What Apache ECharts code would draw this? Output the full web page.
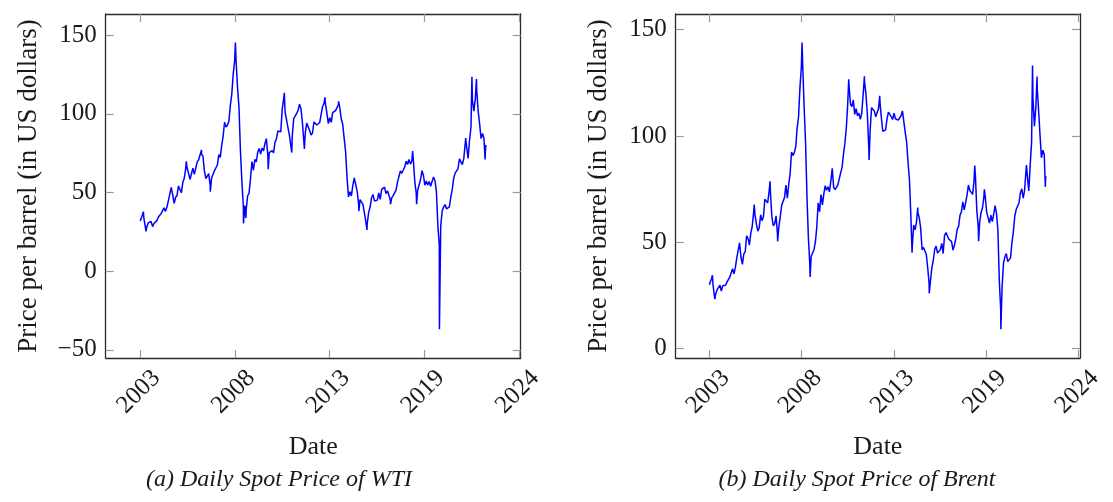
<!DOCTYPE html>
<html>
<head>
<meta charset="utf-8">
<title>Daily Spot Prices of WTI and Brent</title>
<script src="https://cdn.jsdelivr.net/npm/echarts@6/dist/echarts.min.js"></script>
<style>
  html, body { margin: 0; padding: 0; background: #fff; }
  #chart { width: 1113px; height: 502px; }
</style>
</head>
<body>
<div id="chart"></div>
<script>
// Monthly average spot prices (US$ per barrel), one row per year starting 2003
const startYear = 2003;

const wtiMonthly = [
  [32.95, 35.83, 33.51, 28.17, 28.11, 30.66, 30.76, 31.57, 28.31, 30.34, 31.11, 32.13],
  [34.31, 34.69, 36.74, 36.75, 40.28, 38.03, 40.78, 44.90, 45.94, 53.28, 48.47, 43.15],
  [46.84, 48.15, 54.19, 52.98, 49.83, 56.35, 59.00, 64.99, 65.59, 62.26, 58.32, 59.41],
  [65.49, 61.63, 62.69, 69.44, 70.84, 70.95, 74.41, 73.04, 63.80, 58.89, 59.08, 61.96],
  [54.51, 59.28, 60.44, 63.98, 63.46, 67.49, 74.12, 72.36, 79.92, 85.80, 94.77, 91.69],
  [92.97, 95.39, 105.45, 112.58, 125.40, 133.88, 133.37, 116.67, 104.11, 76.61, 57.31, 41.12],
  [41.71, 39.09, 47.94, 49.65, 59.03, 69.64, 64.15, 71.05, 69.41, 75.72, 77.99, 74.47],
  [78.33, 76.39, 81.20, 84.29, 73.74, 75.34, 76.32, 76.60, 75.24, 81.89, 84.25, 89.15],
  [89.17, 88.58, 102.86, 109.53, 100.90, 96.26, 97.30, 86.33, 85.52, 86.32, 97.16, 98.56],
  [100.27, 102.20, 106.16, 103.32, 94.66, 82.30, 87.90, 94.13, 94.51, 89.49, 86.53, 87.86],
  [94.76, 95.31, 92.94, 92.02, 94.51, 95.77, 104.67, 106.57, 106.29, 100.54, 93.86, 97.63],
  [94.62, 100.82, 100.80, 102.07, 102.18, 105.79, 103.59, 96.54, 93.21, 84.40, 75.79, 59.29],
  [47.22, 50.58, 47.82, 54.45, 59.27, 59.82, 50.90, 42.87, 45.48, 46.22, 42.44, 37.19],
  [31.68, 30.32, 37.55, 40.75, 46.71, 48.76, 44.65, 44.72, 45.18, 49.78, 45.66, 51.97],
  [52.50, 53.47, 49.33, 51.06, 48.48, 45.18, 46.63, 48.04, 49.82, 51.58, 56.64, 57.88],
  [63.70, 62.23, 62.73, 66.25, 69.98, 67.87, 70.98, 68.06, 70.23, 70.75, 56.96, 49.52],
  [51.38, 54.95, 58.15, 63.86, 60.83, 54.66, 57.35, 54.81, 56.95, 53.96, 57.03, 59.88],
  [57.52, 50.54, 29.21, 16.55, 28.56, 38.31, 40.71, 42.34, 39.63, 39.40, 40.94, 47.02],
  [52.00, 59.04, 62.33, 61.72, 65.17, 71.38, 72.49, 67.73, 71.54, 81.22, 78.65, 71.71],
  [83.22, 91.64, 108.50, 101.78, 109.55, 114.84, 101.62, 93.67, 84.26, 87.55, 84.37, 76.44]
];

const brentMonthly = [
  [31.18, 32.77, 30.61, 25.00, 25.86, 27.65, 28.35, 29.89, 27.11, 29.61, 28.75, 29.81],
  [31.28, 30.86, 33.63, 33.59, 37.57, 35.18, 38.22, 42.74, 43.20, 49.78, 43.11, 39.60],
  [44.51, 45.48, 53.10, 51.88, 48.65, 54.35, 57.52, 63.98, 62.91, 58.54, 55.24, 56.86],
  [62.99, 60.21, 62.06, 70.26, 69.78, 68.56, 73.67, 73.23, 61.96, 57.81, 58.76, 62.47],
  [53.68, 57.56, 62.05, 67.49, 67.21, 71.05, 76.93, 70.76, 77.17, 82.34, 92.41, 90.93],
  [92.18, 94.99, 103.64, 109.07, 122.80, 132.32, 132.72, 113.24, 97.23, 71.58, 52.45, 39.95],
  [43.44, 43.32, 46.54, 50.18, 57.30, 68.61, 64.44, 72.51, 67.65, 72.77, 76.66, 74.46],
  [76.17, 73.75, 78.83, 84.82, 75.95, 74.76, 75.58, 77.04, 77.84, 82.67, 85.28, 91.45],
  [96.52, 103.72, 114.64, 123.26, 114.99, 113.83, 116.97, 110.22, 112.83, 109.55, 110.77, 107.87],
  [110.69, 119.33, 125.45, 119.75, 110.34, 95.16, 102.62, 113.36, 112.86, 111.71, 109.06, 109.49],
  [112.96, 116.05, 108.47, 102.25, 102.56, 102.92, 107.93, 111.28, 111.60, 109.08, 107.79, 110.76],
  [108.12, 108.90, 107.48, 107.76, 109.54, 111.80, 106.77, 101.61, 97.09, 87.43, 79.44, 62.34],
  [47.76, 58.10, 55.89, 59.52, 64.08, 61.48, 56.56, 46.52, 47.62, 48.43, 44.27, 38.01],
  [30.70, 32.18, 38.21, 41.58, 46.74, 48.25, 44.95, 45.84, 46.57, 49.52, 44.73, 53.31],
  [54.58, 54.87, 51.59, 52.31, 50.33, 46.37, 48.48, 51.70, 56.15, 57.51, 62.71, 64.37],
  [69.08, 65.32, 66.02, 72.11, 76.98, 74.41, 74.25, 72.53, 78.89, 81.03, 64.75, 57.36],
  [59.41, 63.96, 66.14, 71.23, 71.32, 64.22, 63.92, 59.04, 62.83, 59.71, 63.21, 67.31],
  [63.65, 55.66, 32.01, 18.38, 29.38, 40.27, 43.24, 44.74, 40.91, 40.19, 42.69, 49.99],
  [54.77, 62.28, 65.41, 64.81, 68.53, 73.16, 75.17, 70.75, 74.49, 83.54, 81.05, 74.17],
  [86.51, 97.13, 117.25, 104.58, 113.34, 122.71, 111.93, 100.45, 89.76, 93.33, 91.42, 80.92]
];

// Notable single-day prices: [decimal year, price]
const wtiDaily = [
  [2003.00, 31.97], [2003.18, 37.83], [2003.33, 25.24], [2005.66, 69.81],
  [2006.54, 77.03], [2007.05, 50.48], [2008.50, 145.31], [2008.97, 30.28],
  [2009.11, 33.87], [2010.40, 64.78], [2011.33, 113.39], [2011.76, 75.40],
  [2012.49, 77.69], [2013.68, 110.53], [2014.47, 107.95], [2015.64, 38.22],
  [2016.11, 26.19], [2017.47, 42.53], [2018.75, 76.41], [2018.98, 42.53],
  [2020.30, -36.98], [2021.82, 84.65], [2022.18, 123.64], [2022.44, 122.11],
  [2022.94, 71.02], [2022.99, 80.26]
];

const brentDaily = [
  [2003.00, 30.08], [2003.18, 34.55], [2003.33, 23.26], [2005.66, 67.73],
  [2006.60, 78.69], [2007.05, 50.47], [2008.50, 143.95], [2008.98, 33.73],
  [2011.27, 126.64], [2012.20, 128.14], [2012.48, 88.69], [2013.11, 118.90],
  [2015.03, 45.13], [2015.37, 66.33], [2016.05, 26.01], [2018.75, 86.07],
  [2018.98, 50.57], [2019.32, 74.94], [2020.30, 9.12], [2021.82, 86.40],
  [2022.18, 133.18], [2022.45, 127.98], [2022.94, 76.10], [2022.99, 80.50]
];

// x ticks every 2000 days from the first trading day of 2003
const tickYears = [2003.00, 2008.48, 2013.95, 2019.43, 2024.90];
const tickLabels = ['2003', '2008', '2013', '2019', '2024'];

const wtiTicks = [-50, 0, 50, 100, 150];
const brentTicks = [0, 50, 100, 150];

function buildSeries(monthly, daily) {
  const pts = [];
  monthly.forEach((row, yi) => {
    row.forEach((v, m) => pts.push([startYear + yi + (m + 0.5) / 12, v]));
  });
  daily.forEach(p => pts.push([p[0], p[1]]));
  pts.sort((a, b) => a[0] - b[0]);
  return pts;
}

const FONT = '"Liberation Serif", "Times New Roman", serif';
const INK = '#1a1a1a';
const FRAME = '#2b2b2b';
const TICK = '#9a9a9a';

function xAxes(gridIndex) {
  const base = {
    type: 'value', gridIndex, min: 2001.0, max: 2025.0,
    splitLine: { show: false },
    axisLine: { show: true, onZero: false, lineStyle: { color: FRAME, width: 1.3 } },
    axisTick: { show: true, inside: true, length: 8, customValues: tickYears,
                lineStyle: { color: TICK, width: 1.2 } }
  };
  return [
    Object.assign({}, base, {
      position: 'bottom',
      name: 'Date', nameLocation: 'middle', nameGap: 76,
      nameTextStyle: { fontFamily: FONT, fontSize: 26, color: INK },
      axisLabel: {
        show: true, customValues: tickYears, rotate: 45, margin: 0,
        align: 'right', verticalAlign: 'top', lineHeight: 46,
        fontFamily: FONT, fontSize: 25, color: INK,
        formatter: v => {
          const i = tickYears.findIndex(t => Math.abs(t - v) < 1e-6);
          return i >= 0 ? tickLabels[i] : '';
        }
      }
    }),
    Object.assign({}, base, { position: 'top', axisLabel: { show: false } })
  ];
}

function yAxes(gridIndex, min, max, ticks) {
  const base = {
    type: 'value', gridIndex, min, max,
    splitLine: { show: false },
    axisLine: { show: true, onZero: false, lineStyle: { color: FRAME, width: 1.3 } },
    axisTick: { show: true, inside: true, length: 8, customValues: ticks,
                lineStyle: { color: TICK, width: 1.2 } }
  };
  return [
    Object.assign({}, base, {
      position: 'left',
      name: 'Price per barrel (in US dollars)', nameLocation: 'middle', nameGap: 63,
      nameTextStyle: { fontFamily: FONT, fontSize: 27, color: INK },
      axisLabel: { show: true, customValues: ticks, margin: 9,
                   fontFamily: FONT, fontSize: 25, color: INK,
                   formatter: v => (v < 0 ? '\u2212' + Math.abs(v) : String(v)) }
    }),
    Object.assign({}, base, { position: 'right', axisLabel: { show: false } })
  ];
}

const chart = echarts.init(document.getElementById('chart'), null, { renderer: 'canvas' });

chart.setOption({
  animation: false,
  backgroundColor: '#ffffff',
  grid: [
    { left: 105.7, top: 14, width: 415, height: 344 },
    { left: 675.7, top: 14, width: 416, height: 344 }
  ],
  xAxis: [...xAxes(0), ...xAxes(1)],
  yAxis: [...yAxes(0, -55.2, 163.5, wtiTicks), ...yAxes(1, -4.4, 157.4, brentTicks)],
  series: [
    {
      name: 'WTI', type: 'line', xAxisIndex: 0, yAxisIndex: 0,
      data: buildSeries(wtiMonthly, wtiDaily),
      showSymbol: false, symbol: 'none',
      lineStyle: { color: '#0000ff', width: 1.5 }
    },
    {
      name: 'Brent', type: 'line', xAxisIndex: 2, yAxisIndex: 2,
      data: buildSeries(brentMonthly, brentDaily),
      showSymbol: false, symbol: 'none',
      lineStyle: { color: '#0000ff', width: 1.5 }
    }
  ],
  graphic: [
    { type: 'text', silent: true, x: 279, y: 480,
      style: { text: '(a) Daily Spot Price of WTI',
               font: 'italic 24px ' + FONT, fill: INK,
               align: 'center', verticalAlign: 'middle' } },
    { type: 'text', silent: true, x: 857, y: 480,
      style: { text: '(b) Daily Spot Price of Brent',
               font: 'italic 24px ' + FONT, fill: INK,
               align: 'center', verticalAlign: 'middle' } }
  ]
});
</script>
</body>
</html>
